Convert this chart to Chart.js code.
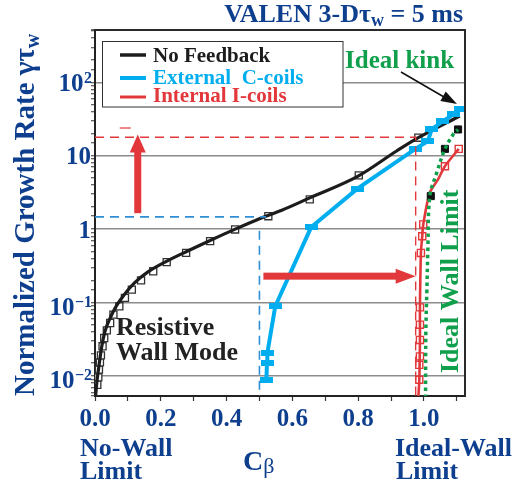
<!DOCTYPE html>
<html>
<head>
<meta charset="utf-8">
<script src="https://cdn.jsdelivr.net/npm/chart.js@4.4.1/dist/chart.umd.min.js"></script>
<style>
  html, body { margin: 0; padding: 0; background: #fff; }
  #wrap { width: 528px; height: 485px; position: relative; }
</style>
</head>
<body>
<div id="wrap"><canvas id="c"></canvas></div>
<script>
const SERIF = '"Liberation Serif", "Times New Roman", Times, serif';
const NAVY = '#0e3f8e';
const GREEN = '#10a04c';
const RED = '#e2383b';
const CYAN = '#00aeef';
const GUIDE_BLUE = '#2f8fd4';
const INK = '#1c1c1c';

const seriesNames = ['No Feedback', 'External  C-coils', 'Internal I-coils'];

// No feedback: fitted RWM growth-rate curve
const noFbLineX = [0.002, 0.006, 0.010, 0.014, 0.020, 0.030, 0.045, 0.065, 0.090, 0.120, 0.160, 0.220, 0.280, 0.350, 0.426, 0.502, 0.568, 0.653, 0.800, 0.917, 0.983, 1.109];
const noFbLineY = [0.0055, 0.0085, 0.0118, 0.0160, 0.0245, 0.040, 0.060, 0.090, 0.130, 0.185, 0.260, 0.370, 0.500, 0.700, 1.00, 1.40, 1.81, 2.67, 5.28, 11.6, 17.6, 34.8];
// No feedback: computed cases
const noFbPtsX = [0.007, 0.010, 0.012, 0.015, 0.018, 0.023, 0.028, 0.036, 0.046, 0.056, 0.074, 0.091, 0.112, 0.140, 0.177, 0.218, 0.277, 0.350, 0.426, 0.527, 0.653, 0.802, 0.983];
const noFbPtsY = [0.0076, 0.0096, 0.0122, 0.0153, 0.0191, 0.0254, 0.0329, 0.0419, 0.0527, 0.0686, 0.089, 0.116, 0.150, 0.201, 0.267, 0.355, 0.475, 0.686, 0.99, 1.50, 2.54, 5.4, 17.6];

// External C-coil feedback
const extX = [0.521, 0.523, 0.524, 0.548, 0.657, 0.798, 0.973, 1.012, 1.024, 1.058, 1.091, 1.112];
const extY = [0.0088, 0.0150, 0.0205, 0.089, 1.06, 3.56, 12.3, 15.8, 23.0, 29.6, 36.9, 43.2];

// Internal I-coil feedback
const intLineX = [0.983, 0.986, 0.988, 0.988, 0.991, 0.995, 0.998, 1.018, 1.043, 1.064, 1.106];
const intLineY = [0.005, 0.0089, 0.031, 0.086, 0.475, 0.80, 1.16, 3.13, 4.75, 7.2, 12.4];
const intPtsX = [0.986, 0.986, 0.988, 0.988, 0.988, 0.988, 0.991, 0.995, 0.998, 1.064, 1.106];
const intPtsY = [0.0089, 0.0142, 0.0185, 0.031, 0.05, 0.086, 0.475, 0.80, 1.16, 7.2, 12.4];

// Ideal kink (ideal-wall limit)
const kinkLineX = [1.005, 1.006, 1.009, 1.012, 1.018, 1.039, 1.064, 1.089, 1.104];
const kinkLineY = [0.005, 0.041, 0.143, 0.50, 2.82, 5.85, 12.3, 19.5, 22.8];
const kinkPtsX = [1.021, 1.064, 1.104];
const kinkPtsY = [2.82, 12.4, 22.8];

// Dashed guide lines
const blueGuideHX = [0, 0.52], blueGuideHY = [1.47, 1.47];
const blueGuideVX = [0.5, 0.5], blueGuideVY = [0.95, 0.004];
const redGuideX = [0, 0.975, 0.975], redGuideY = [17.9, 17.9, 0.004];

// Gain arrows (data coordinates): vertical at x, horizontal at y
const upArrow = { x: 0.13, y0: 1.65, y1: 19.5 };
const rightArrow = { y: 0.229, x0: 0.512, x1: 0.975 };

// Axis ranges and tick labels
const xMin = 0, xMax = 1.125;
const yMin = 0.00534, yMax = 516;
const yTickValues = [100, 10, 1, 0.1, 0.01];
const yTickBase = ['10', '10', '1', '10', '10'];
const yTickExp = ['2', '', '', '\u22121', '\u22122'];

const pts = (xs, ys) => xs.map((x, i) => ({ x, y: ys[i] }));
const isDecade = v => v > 0 && Math.abs(Math.log10(v) - Math.round(Math.log10(v))) < 1e-6;

// bar-shaped marker for the C-coil cases
const barMark = document.createElement('canvas');
barMark.width = 13; barMark.height = 6;
(function () { const g = barMark.getContext('2d'); g.fillStyle = CYAN; g.fillRect(0, 0, 13, 6); })();

function font(size, weight) { return (weight || 'bold') + ' ' + size + 'px ' + SERIF; }

function filledArrow(ctx, x0, y0, x1, y1, shaft, headL, headW, color) {
  const dx = x1 - x0, dy = y1 - y0, len = Math.hypot(dx, dy);
  ctx.save();
  ctx.translate(x0, y0);
  ctx.rotate(Math.atan2(dy, dx));
  ctx.fillStyle = color;
  ctx.fillRect(0, -shaft / 2, len - headL + 1, shaft);
  ctx.beginPath();
  ctx.moveTo(len, 0);
  ctx.lineTo(len - headL, -headW / 2);
  ctx.lineTo(len - headL, headW / 2);
  ctx.closePath();
  ctx.fill();
  ctx.restore();
}

const overlay = {
  id: 'overlay',
  afterDatasetsDraw(chart) {
    const { ctx, chartArea: a } = chart;
    ctx.save();
    ctx.strokeStyle = '#2a2a2a';
    ctx.lineWidth = 2;
    ctx.beginPath();
    ctx.moveTo(a.left, a.top); ctx.lineTo(a.right, a.top); ctx.lineTo(a.right, a.bottom);
    ctx.stroke();
    ctx.restore();
  },
  afterDraw(chart) {
    const { ctx } = chart;
    const xs = chart.scales.x, ys = chart.scales.y;
    ctx.save();

    // y tick labels with exponents
    yTickValues.forEach((v, i) => {
      const py = ys.getPixelForValue(v);
      const neg = yTickExp[i].startsWith('\u2212');
      const base = py + 8.5 + (neg ? 4 : 0);
      ctx.fillStyle = NAVY;
      ctx.textBaseline = 'alphabetic';
      ctx.textAlign = 'right';
      let right = 92;
      if (yTickExp[i]) {
        ctx.font = font(16);
        ctx.fillText(yTickExp[i], right, base - 8);
        right -= ctx.measureText(yTickExp[i]).width + 0.5;
      } else {
        right -= 1;
      }
      ctx.font = font(25);
      ctx.fillText(yTickBase[i], right, base);
    });

    // title
    const titleParts = [['VALEN 3-D', 26, 0], ['\u03c4', 26, 0], ['w', 18, 4], [' = 5 ms', 26, 0]];
    let tw = 0;
    titleParts.forEach(p => { ctx.font = font(p[1]); tw += ctx.measureText(p[0]).width; });
    let tx = 463 - tw;
    ctx.fillStyle = NAVY; ctx.textAlign = 'left';
    titleParts.forEach(p => { ctx.font = font(p[1]); ctx.fillText(p[0], tx, 22 + p[2]); tx += ctx.measureText(p[0]).width; });

    // y axis title
    ctx.save();
    ctx.translate(34, 396);
    ctx.rotate(-Math.PI / 2);
    ctx.fillStyle = NAVY;
    const yParts = [['Normalized Growth Rate ', 29, 0], ['\u03b3\u03c4', 29, 0], ['w', 20, 5]];
    let ux = 0;
    yParts.forEach(p => { ctx.font = font(p[1]); ctx.fillText(p[0], ux, p[2]); ux += ctx.measureText(p[0]).width; });
    ctx.restore();

    // x axis captions
    ctx.fillStyle = NAVY;
    ctx.font = font(26);
    ctx.fillText('No-Wall', 80, 456);
    ctx.fillText('Limit', 80, 479);
    ctx.fillText('Ideal-Wall', 395, 456);
    ctx.fillText('Limit', 396, 479);
    ctx.font = font(28);
    ctx.fillText('C', 243, 470);
    const cw = ctx.measureText('C').width;
    ctx.font = font(22, 'normal');
    ctx.fillText('\u03b2', 243 + cw, 473);

    // legend
    ctx.fillStyle = '#fff';
    ctx.fillRect(102.5, 41.5, 240.5, 65.5);
    ctx.strokeStyle = '#333'; ctx.lineWidth = 1;
    ctx.strokeRect(102.5, 41.5, 240.5, 65.5);
    const legColors = [INK, CYAN, RED];
    const legLineY = [55, 78, 97];
    const legTextY = [62, 84, 101.5];
    const legWidth = [3.5, 4, 3];
    seriesNames.forEach((name, i) => {
      ctx.strokeStyle = legColors[i]; ctx.lineWidth = legWidth[i];
      ctx.beginPath(); ctx.moveTo(120, legLineY[i]); ctx.lineTo(146, legLineY[i]); ctx.stroke();
      ctx.fillStyle = legColors[i];
      ctx.font = font(21);
      ctx.fillText(name, 153, legTextY[i]);
    });

    // annotations
    ctx.fillStyle = '#222';
    ctx.font = font(26);
    ctx.fillText('Resistive', 116, 335);
    ctx.fillText('Wall Mode', 116, 360);

    ctx.fillStyle = GREEN;
    ctx.font = font(25);
    ctx.fillText('Ideal kink', 345, 68);
    // pointer to the ideal kink
    ctx.strokeStyle = '#111'; ctx.lineWidth = 1.5;
    ctx.beginPath(); ctx.moveTo(401, 72); ctx.lineTo(444, 97); ctx.stroke();
    filledArrow(ctx, 440, 94.5, 457, 104, 0, 16, 11, '#111');

    ctx.save();
    ctx.translate(458, 373);
    ctx.rotate(-Math.PI / 2);
    ctx.fillStyle = GREEN;
    ctx.font = font(26);
    ctx.fillText('Ideal Wall Limit', 0, 0);
    ctx.restore();

    // gain arrows
    const ax = xs.getPixelForValue(upArrow.x);
    filledArrow(ctx, ax, ys.getPixelForValue(upArrow.y0), ax, ys.getPixelForValue(upArrow.y1), 7, 18, 16, RED);
    ctx.strokeStyle = RED; ctx.lineWidth = 1.2;
    ctx.beginPath(); ctx.moveTo(ax - 18, 128); ctx.lineTo(ax - 7, 128); ctx.stroke();
    const ay = ys.getPixelForValue(rightArrow.y);
    filledArrow(ctx, xs.getPixelForValue(rightArrow.x0), ay, xs.getPixelForValue(rightArrow.x1), ay, 7, 20, 15, RED);

    ctx.restore();
  }
};

new Chart(document.getElementById('c'), {
  type: 'line',
  data: {
    datasets: [
      { data: pts(blueGuideHX, blueGuideHY), borderColor: GUIDE_BLUE, borderWidth: 1.6, borderDash: [9, 6], pointRadius: 0 },
      { data: pts(blueGuideVX, blueGuideVY), borderColor: GUIDE_BLUE, borderWidth: 1.6, borderDash: [9, 6], pointRadius: 0 },
      { data: pts(redGuideX, redGuideY), borderColor: RED, borderWidth: 1.4, borderDash: [9, 6], pointRadius: 0 },
      { data: pts(kinkLineX, kinkLineY), borderColor: GREEN, borderWidth: 3.5, borderDash: [3.5, 3.5], tension: 0.35, pointRadius: 0 },
      { data: pts(kinkPtsX, kinkPtsY), showLine: false, pointStyle: 'rect', pointRadius: 5, pointBackgroundColor: '#111', pointBorderColor: '#111', pointBorderWidth: 1 },
      { label: seriesNames[2], data: pts(intLineX, intLineY), borderColor: RED, borderWidth: 2.6, tension: 0.3, pointRadius: 0 },
      { data: pts(intPtsX, intPtsY), showLine: false, pointStyle: 'rect', pointRadius: 5, pointBackgroundColor: '#fff', pointBorderColor: RED, pointBorderWidth: 1.4 },
      { label: seriesNames[1], data: pts(extX, extY), borderColor: CYAN, borderWidth: 4, tension: 0, pointStyle: barMark, pointRadius: 6, pointBackgroundColor: CYAN },
      { label: seriesNames[0], data: pts(noFbLineX, noFbLineY), borderColor: INK, borderWidth: 3.2, cubicInterpolationMode: 'monotone', pointRadius: 0 },
      { data: pts(noFbPtsX, noFbPtsY), showLine: false, pointStyle: 'rect', pointRadius: 5, pointBackgroundColor: '#fff', pointBorderColor: '#333', pointBorderWidth: 1.3 }
    ]
  },
  options: {
    responsive: true,
    maintainAspectRatio: false,
    animation: false,
    events: [],
    layout: { padding: { left: 0, right: 63, top: 30, bottom: 0 } },
    plugins: { legend: { display: false }, tooltip: { enabled: false } },
    scales: {
      x: {
        type: 'linear', min: xMin, max: xMax,
        afterFit(s) { s.height = 89; },
        grid: { drawOnChartArea: false, tickLength: 5, tickColor: '#333', tickWidth: 1.2 },
        border: { display: true, color: '#222', width: 2 },
        ticks: {
          stepSize: 0.1, includeBounds: false, autoSkip: false, maxRotation: 0, padding: 4,
          font: { family: SERIF, size: 25, weight: 'bold' }, color: NAVY,
          callback: v => { const k = Math.round(v * 10); return (k % 2 === 0 && k <= 10) ? (k / 10).toFixed(1) : ''; }
        }
      },
      y: {
        type: 'logarithmic', min: yMin, max: yMax,
        afterFit(s) { s.width = 95; },
        grid: {
          color: c => (c.tick && isDecade(c.tick.value)) ? '#8c8c8c' : 'rgba(0,0,0,0)',
          lineWidth: 1.5, tickLength: 4, tickColor: '#333', tickWidth: 1
        },
        border: { display: true, color: '#222', width: 2 },
        ticks: { display: false }
      }
    }
  },
  plugins: [overlay]
});
</script>
</body>
</html>
